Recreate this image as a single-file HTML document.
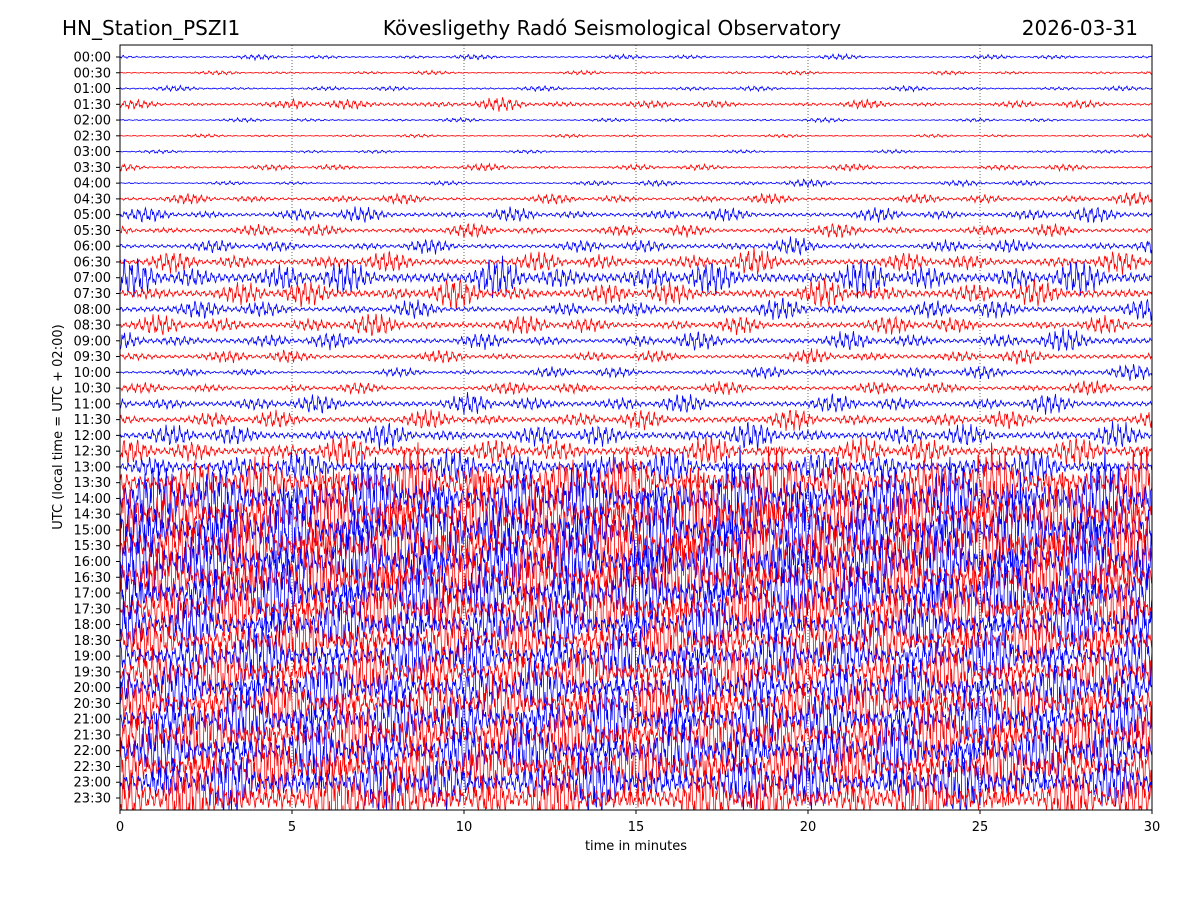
<!DOCTYPE html>
<html><head><meta charset="utf-8">
<style>
html,body{margin:0;padding:0;background:#fff;}
svg{display:block;font-family:"DejaVu Sans","Liberation Sans",sans-serif;}
</style></head>
<body>
<svg id="chart" width="1200" height="900">
  <rect width="1200" height="900" fill="#fff"/>
  <text x="62" y="35" font-size="20">HN_Station_PSZI1</text>
  <text x="612" y="35" font-size="20" text-anchor="middle">Kövesligethy Radó Seismological Observatory</text>
  <text x="1138" y="35" font-size="20" text-anchor="end">2026-03-31</text>
  <defs><clipPath id="clip"><rect x="120" y="45" width="1032" height="765"/></clipPath></defs>
  <g id="grid"></g>
  <g id="traces" clip-path="url(#clip)"></g>
  <rect x="120" y="45" width="1032" height="765" fill="none" stroke="#000" stroke-width="1"/>
  <g id="xaxis"></g>
  <g id="yaxis"></g>
  <text x="405" y="0" font-size="13" text-anchor="middle" transform="translate(62,0) rotate(-90) translate(-832,0)">UTC (local time = UTC + 02:00)</text>
  <text x="636" y="850" font-size="13" text-anchor="middle">time in minutes</text>
</svg>
<script>
const minuteTicks = [0,5,10,15,20,25,30];
const hourLabels = ["00:00","00:30","01:00","01:30","02:00","02:30","03:00","03:30","04:00","04:30","05:00","05:30","06:00","06:30","07:00","07:30","08:00","08:30","09:00","09:30","10:00","10:30","11:00","11:30","12:00","12:30","13:00","13:30","14:00","14:30","15:00","15:30","16:00","16:30","17:00","17:30","18:00","18:30","19:00","19:30","20:00","20:30","21:00","21:30","22:00","22:30","23:00","23:30"];
const amps = [1.5,1.2,1.5,2.5,1.2,1,1,2,2,3,4,4,4,6,10,8,6,6,5.5,4.5,4,4,5.5,5.5,7,8,10,22,26,26,28,28,28,26,26,22,20,20,20,20,20,20,22,23,23,22,21,21];
const segs = [
[1,1,1,1,1,1],[1,1,1,1,1,1],[1,1,1,1,1,1],[1,1.5,1.5,1,1,1],[1,1,1,1,1,1],[1,1,1,1,1,1],[1,1,1,1,1,1],[1,1,1,1,1,1],[0.6,0.6,0.8,1.2,1,1],[1,1,1,1,1,1.2],
[1,1.2,1,1,1,1.2],[1,1,1,1,1,1],[1,1,1,1.2,1,1.2],[1,1,1,1.2,1,1],[1.1,1,1.1,1,1.1,1],[1,1.1,1,0.9,1,1],[1,0.8,0.7,1,1,1],[1,1.1,1,0.8,1,0.8],[1,0.9,0.8,1,1,1.2],[1,0.8,0.8,0.8,1,1],
[0.6,0.6,0.9,0.8,1,1.1],[0.8,0.8,1,0.9,1,1],[1,1,1.1,1,1,1],[1,1,1,1.1,1,1],[1,1,1,1.1,1,1],[1,1.1,1,1,1.1,1],[1,1,1.1,1,1,1],[0.8,1,1,1,1.1,1],[1,1,1,1,1,1],[1,1,1,1.1,1,1],
[1,1,1,1,1,1],[1,1,1,1.1,1,1],[1,1,1,1,1,1],[1,1,1,1,1,1],[1,1,1,1,1,1],[1,1,1,1,1,1],[1,1,1,1,1,1],[1,1,1,1,1,1],[1,1,1,1,1,1],[1,1,1,1,1,1],
[1,1,1,1,1,1],[1,1,1,1,1,1],[1,1,1,1,1,1],[1,1,1,1,1,1],[1,1,1,1,1,1],[1,1,1,1,1,1],[1,1,1,1,1,1],[1.2,1.2,1,1,1,1]];

const NS="http://www.w3.org/2000/svg";
const X0=120,X1=1152,Y0=57,Y1=798;
const xScale = m => X0 + (m/30)*(X1-X0);
const yScale = i => Y0 + i*(Y1-Y0)/(hourLabels.length-1);

const grid=document.getElementById('grid');
minuteTicks.forEach(m=>{
  if(m===0||m===30) return;
  const l=document.createElementNS(NS,'line');
  l.setAttribute('x1',xScale(m));l.setAttribute('x2',xScale(m));
  l.setAttribute('y1',45);l.setAttribute('y2',810);
  l.setAttribute('stroke','#000');l.setAttribute('stroke-width','0.6');l.setAttribute('stroke-dasharray','1,2');
  
  
  grid.appendChild(l);
});
const xa=document.getElementById('xaxis');
minuteTicks.forEach(m=>{
  const t=document.createElementNS(NS,'line');
  t.setAttribute('x1',xScale(m));t.setAttribute('x2',xScale(m));t.setAttribute('y1',810);t.setAttribute('y2',814);t.setAttribute('stroke','#000');
  
  
  xa.appendChild(t);
  const tx=document.createElementNS(NS,'text');
  tx.setAttribute('x',xScale(m));tx.setAttribute('y',831);tx.setAttribute('font-size','13');tx.setAttribute('text-anchor','middle');
  tx.textContent=m;
  
  
  xa.appendChild(tx);
});
const ya=document.getElementById('yaxis');
hourLabels.forEach((h,i)=>{
  const y=yScale(i);
  const t=document.createElementNS(NS,'line');
  t.setAttribute('x1',116);t.setAttribute('x2',120);t.setAttribute('y1',y);t.setAttribute('y2',y);t.setAttribute('stroke','#000');
  
  
  ya.appendChild(t);
  const tx=document.createElementNS(NS,'text');
  tx.setAttribute('x',111);tx.setAttribute('y',y+4.5);tx.setAttribute('font-size','13');tx.setAttribute('text-anchor','end');
  tx.textContent=h;
  
  
  ya.appendChild(tx);
});
const tr=document.getElementById('traces');
hourLabels.forEach((h,i)=>{
  const y0=yScale(i), A=amps[i], sg=segs[i];
  let d='';
  const ph=i*1.731;
  for(let x=X0;x<=X1;x+=0.5){
    const m=(x-X0)/(X1-X0)*30;
    const si=Math.min(5,Math.floor(m/5));
    const s=Math.abs(Math.sin(x*0.043+ph)*Math.sin(x*0.017+ph*2.3));
    const env=sg[si]*(0.3+1.3*s*s);
    const w=Math.sin(x*0.93+ph)+0.6*Math.sin(x*2.31+ph*1.7)+0.35*Math.sin(x*4.7+ph*0.6);
    const y=y0 - A*env*w/1.4;
    d+=(x===X0?'M':'L')+x.toFixed(1)+','+y.toFixed(1);
  }
  const p=document.createElementNS(NS,'path');
  p.setAttribute('d',d);p.setAttribute('fill','none');
  p.setAttribute('stroke',i%2===0?'#0000ff':'#ff0000');p.setAttribute('stroke-width','0.8');
  
  
  tr.appendChild(p);
});
</script>
</body></html>
